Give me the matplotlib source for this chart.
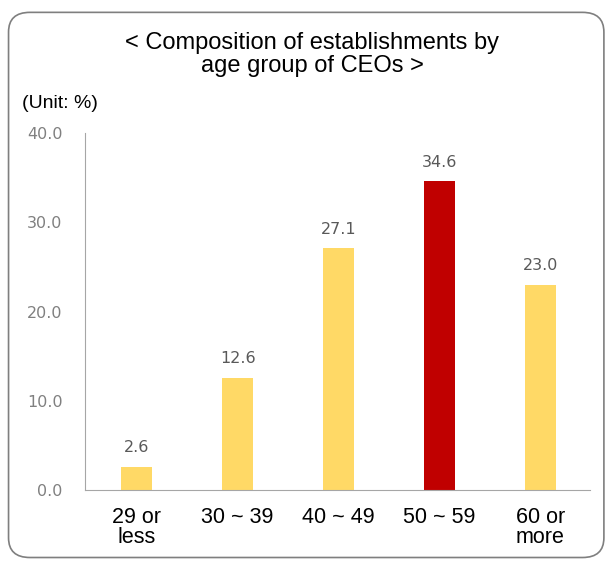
import matplotlib.pyplot as plt
from matplotlib.patches import FancyBboxPatch

categories = ['29 or\nless', '30 ~ 39', '40 ~ 49', '50 ~ 59', '60 or\nmore']
values = [2.6, 12.6, 27.1, 34.6, 23.0]
bar_colors = ['#FFD966', '#FFD966', '#FFD966', '#C00000', '#FFD966']
yticks = [0, 10, 20, 30, 40]

fig = plt.figure(figsize=(6.1, 5.62), dpi=100)

# rounded frame around the whole chart
frame = FancyBboxPatch((0.014, 0.008), 0.976, 0.97, boxstyle='round,pad=0,rounding_size=0.035',
                       transform=fig.transFigure, fill=False, edgecolor='#7f7f7f', linewidth=1.2)
fig.patches.append(frame)

ax = fig.add_axes([0.139, 0.128, 0.828, 0.635])
x = range(len(categories))
ax.bar(x, values, width=0.31, color=bar_colors)

for xi, v in zip(x, values):
    ax.text(xi, v + 1.3, f'{v:.1f}', ha='center', va='bottom', fontsize=11.5,
            color='#595959', family='DejaVu Sans')

ax.set_xlim(-0.515, 4.49)
ax.set_ylim(0, 40)
ax.set_yticks(yticks)
ax.set_yticklabels([f'{t:.1f}' for t in yticks], color='#808080', fontsize=11.5, family='DejaVu Sans')
ax.set_xticks(list(x))
ax.set_xticklabels(categories, fontsize=15.5, family='Liberation Sans', linespacing=0.95)
ax.tick_params(axis='both', length=0)
ax.tick_params(axis='y', pad=16)
ax.tick_params(axis='x', pad=12)

for s in ['top', 'right']:
    ax.spines[s].set_visible(False)
ax.spines['left'].set_color('#a6a6a6')
ax.spines['bottom'].set_color('#a6a6a6')

fig.text(0.512, 0.903, '< Composition of establishments by\nage group of CEOs >', ha='center', va='center',
         fontsize=17, family='Liberation Sans', linespacing=1.05)
fig.text(0.036, 0.815, '(Unit: %)', ha='left', va='center', fontsize=14, family='Liberation Sans')

fig.savefig('out.png', dpi=100)
